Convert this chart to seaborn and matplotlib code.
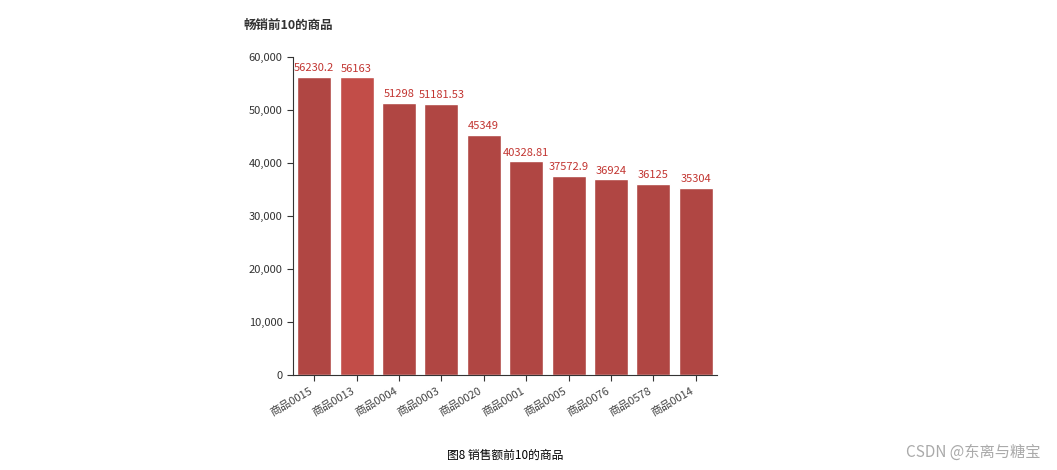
import pandas as pd
import matplotlib.pyplot as plt
import seaborn as sns
from matplotlib.ticker import FuncFormatter

products = ["商品0015", "商品0013", "商品0004", "商品0003", "商品0020",
            "商品0001", "商品0005", "商品0076", "商品0578", "商品0014"]
sales = [56230.2, 56163, 51298, 51181.53, 45349, 40328.81, 37572.9, 36924, 36125, 35304]
labels = ["56230.2", "56163", "51298", "51181.53", "45349",
          "40328.81", "37572.9", "36924", "36125", "35304"]

sns.set_style("white")
plt.rcParams['font.family'] = ['Noto Sans CJK SC', 'DejaVu Sans']

df = pd.DataFrame({"product": products, "sales": sales})
colors = ["#c23531"] * 10
colors[1] = "#d63a34"

fig = plt.figure(figsize=(10.57, 4.70), dpi=100)
ax = fig.add_axes([293/1057, 1 - 375/470, 424/1057, 318/470])
sns.barplot(data=df, x="product", y="sales", hue="product", palette=colors,
            legend=False, width=0.8, ax=ax)
for i, (v, t) in enumerate(zip(sales, labels)):
    ax.text(i, v + 700, t, ha="center", va="bottom", fontsize=8, color="#c23531")

ax.set_ylim(0, 60000)
ax.set_xlim(-0.5, 9.5)
ax.yaxis.set_major_formatter(FuncFormatter(lambda v, p: f"{int(v):,}"))
ax.set_xlabel("")
ax.set_ylabel("")
for s in ["top", "right"]:
    ax.spines[s].set_visible(False)
for s in ["left", "bottom"]:
    ax.spines[s].set_color("#333333")
ax.tick_params(axis="both", labelsize=8, colors="#333333", length=4, direction="out")
ax.tick_params(axis="x", bottom=True)
ax.tick_params(axis="y", left=True)
plt.setp(ax.get_xticklabels(), rotation=30, ha="right", color="#444444")

fig.text(243/1057, 1 - 25/470, "畅销前10的商品", fontsize=9, fontweight="bold",
         color="#333333", va="center")
fig.text(505/1057, 1 - 455/470, "图8 销售额前10的商品", fontsize=8.5,
         color="black", ha="center", va="center")
fig.text(1040/1057, 1 - 452/470, "CSDN @东离与糖宝", fontsize=11,
         color="#aaaaaa", ha="right", va="center")

fig.savefig("out.png", dpi=100)
